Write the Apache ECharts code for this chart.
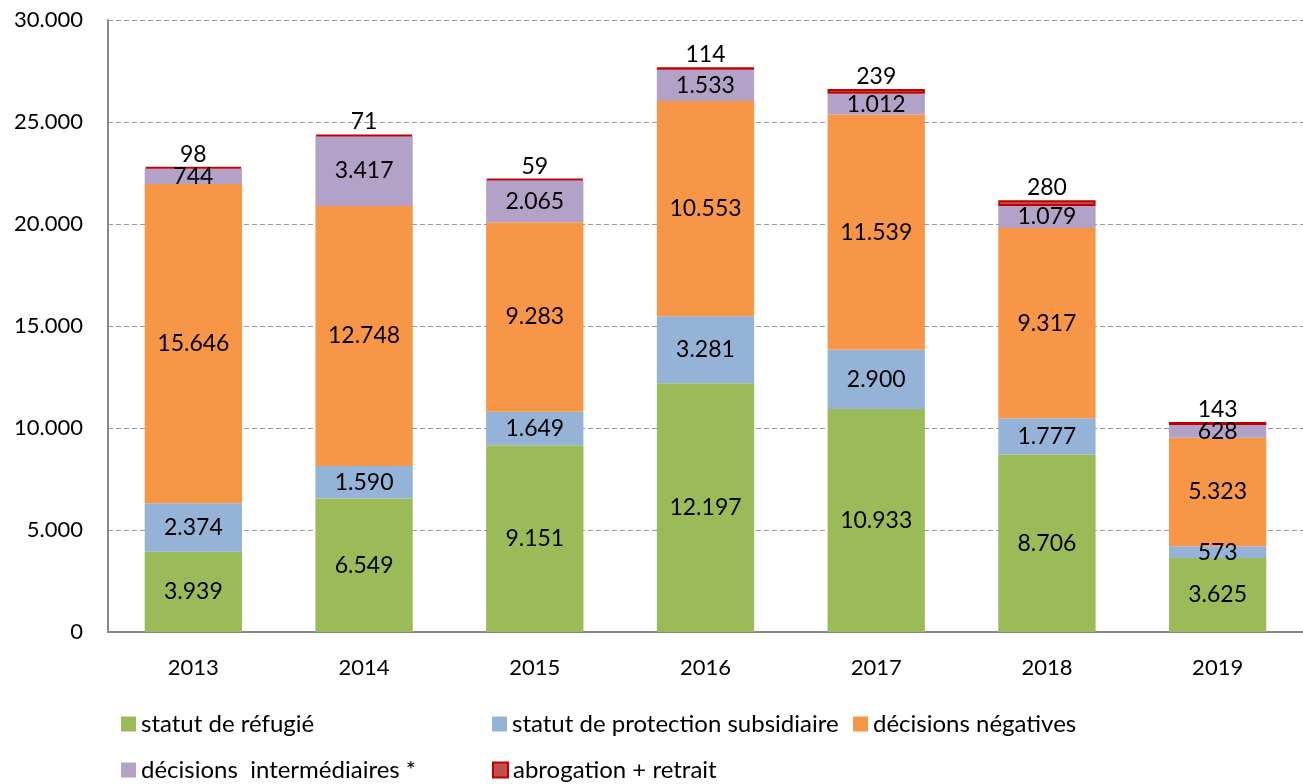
<!DOCTYPE html>
<html>
<head>
<meta charset="utf-8">
<script src="https://cdn.jsdelivr.net/npm/echarts@6/dist/echarts.min.js"></script>
<style>
  html, body { margin: 0; padding: 0; background: #fff; }
  #chart { width: 1303px; height: 784px; }
</style>
</head>
<body>
<div id="chart"></div>
<script>
const years = ['2013', '2014', '2015', '2016', '2017', '2018', '2019'];
const refugie = [3939, 6549, 9151, 12197, 10933, 8706, 3625];
const subsidiaire = [2374, 1590, 1649, 3281, 2900, 1777, 573];
const negatives = [15646, 12748, 9283, 10553, 11539, 9317, 5323];
const intermediaires = [744, 3417, 2065, 1533, 1012, 1079, 628];
const abrogation = [98, 71, 59, 114, 239, 280, 143];

const FONT = 'Lato';

// format 12345 -> 12.345
const fmt = v => String(v).replace(/\B(?=(\d{3})+(?!\d))/g, '.');

const chart = echarts.init(document.getElementById('chart'));

const labelBase = {
  show: true,
  color: '#000',
  fontSize: 23,
  fontFamily: FONT,
  formatter: p => fmt(p.value)
};

const mkSeries = (name, data, color, extra) => Object.assign({
  name: name,
  type: 'bar',
  stack: 'total',
  barWidth: '57%',
  data: data,
  itemStyle: { color: color },
  label: Object.assign({}, labelBase, { position: 'inside' })
}, extra || {});

const legendAt = (name, left, top) => ({
  data: [name],
  left: left,
  top: top,
  icon: 'rect',
  itemWidth: 15,
  itemHeight: 15,
  textStyle: { fontSize: 24, lineHeight: 26, fontFamily: FONT, color: '#000' },
  selectedMode: false
});

chart.setOption({
  animation: false,
  textStyle: { fontFamily: FONT },
  grid: { left: 108, right: 0, top: 20, bottom: 152 },
  xAxis: {
    type: 'category',
    data: years,
    axisLine: { lineStyle: { color: '#888', width: 2 } },
    axisTick: { show: false },
    axisLabel: { fontSize: 22, fontFamily: FONT, color: '#000', margin: 25 }
  },
  yAxis: {
    type: 'value',
    min: 0,
    max: 30000,
    interval: 5000,
    axisLine: { show: true, lineStyle: { color: '#888', width: 2 } },
    axisTick: { show: false },
    splitLine: { lineStyle: { color: '#999', type: [5, 3], width: 1 } },
    axisLabel: { fontSize: 22, fontFamily: FONT, color: '#000', margin: 25, formatter: v => fmt(v) }
  },
  legend: [
    legendAt('statut de réfugié', 116, 706),
    legendAt('statut de protection subsidiaire', 487, 706),
    legendAt('décisions négatives', 848, 706),
    legendAt('décisions  intermédiaires *', 116, 752),
    legendAt('abrogation + retrait', 487, 752)
  ],
  series: [
    mkSeries('statut de réfugié', refugie, '#9BBB59'),
    mkSeries('statut de protection subsidiaire', subsidiaire, '#95B3D7'),
    mkSeries('décisions négatives', negatives, '#F79646'),
    mkSeries('décisions  intermédiaires *', intermediaires, '#B2A2C7'),
    mkSeries('abrogation + retrait', abrogation, '#C0504D', {
      itemStyle: { color: '#C0504D', borderColor: '#C00000', borderWidth: 2 },
      label: Object.assign({}, labelBase, { position: 'top', distance: 1 })
    })
  ]
});

window.addEventListener('resize', () => chart.resize());
</script>
</body>
</html>
